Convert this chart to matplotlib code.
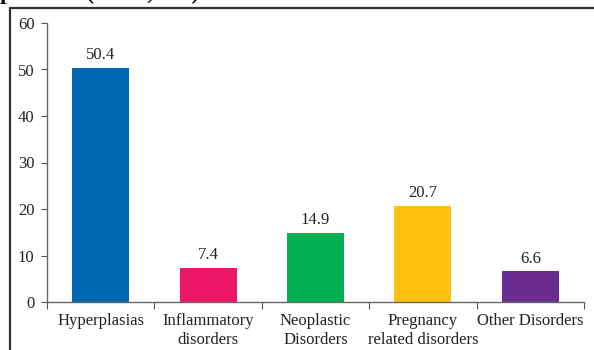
import matplotlib.pyplot as plt
import numpy as np
from matplotlib.lines import Line2D

categories = ['Hyperplasias', 'Inflammatory\ndisorders', 'Neoplastic\nDisorders',
              'Pregnancy\nrelated disorders', 'Other Disorders']
values = [50.4, 7.4, 14.9, 20.7, 6.6]
colors = ['#0066B3', '#ED1566', '#00B050', '#FFC010', '#6B2C91']

plt.rcParams['font.family'] = ['Liberation Serif', 'DejaVu Serif']

fig = plt.figure(figsize=(5.94, 3.5), dpi=100)
ax = fig.add_axes([47 / 594, 1 - 302 / 350, (584 - 47) / 594, (302 - 23) / 350])

x = np.arange(len(categories))
bars = ax.bar(x, values, width=0.53, color=colors)
for bar, v in zip(bars, values):
    ax.text(bar.get_x() + bar.get_width() / 2, v + 1.0, f'{v}',
            ha='center', va='bottom', fontsize=12, color='#222222')

ax.set_xlim(-0.5, len(categories) - 0.5)
ax.set_ylim(0, 60)
ax.set_yticks(range(0, 61, 10))
ax.tick_params(axis='y', direction='out', length=4, labelsize=12, colors='#222222', pad=5)
# метки по оси X - на границах категорий
ax.set_xticks(np.arange(-0.5, len(categories), 1))
ax.set_xticklabels([])
ax.set_xticks(x, minor=True)
ax.set_xticklabels(categories, minor=True, fontsize=12, color='#222222', linespacing=1.2)
ax.tick_params(axis='x', which='major', direction='out', length=5, color='#555555')
ax.tick_params(axis='x', which='minor', length=0, pad=8)
ax.tick_params(axis='y', color='#555555')

for side in ['top', 'right']:
    ax.spines[side].set_visible(False)
for side in ['left', 'bottom']:
    ax.spines[side].set_color('#666666')
    ax.spines[side].set_linewidth(1.0)

# рамка слайда и обрезанный заголовок
fig.add_artist(Line2D([10 / 594, 10 / 594, 1], [0, 1 - 8 / 350, 1 - 8 / 350],
                      transform=fig.transFigure, color='#333333', linewidth=1.6))
fig.text(0 / 594, 1 + 1 / 350, 'patients (0.0%,n=0)', fontsize=17, fontweight='bold',
         va='baseline', ha='left', color='#111111')

fig.savefig('out.png', dpi=100)
